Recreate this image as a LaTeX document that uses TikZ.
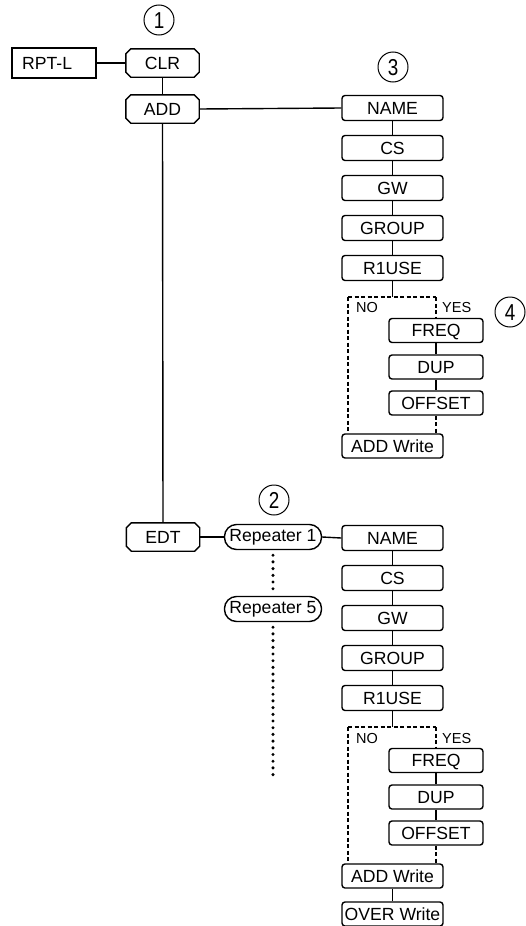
\documentclass[tikz,border=0pt]{standalone}
\usepackage{fontspec}
\setmainfont{Liberation Sans}
\begin{document}
\begin{tikzpicture}[x=1pt,y=-1pt,
  lw/.style={line width=1.4pt},
  txt/.style={font=\fontsize{17.6}{20}\selectfont, inner sep=0pt},
  box/.style={txt, lw, draw, rounded corners=3pt, minimum width=101pt, minimum height=25pt, text height=12.6pt, text depth=0pt},
  sbox/.style={box, minimum width=94pt, minimum height=24pt},
  rep/.style={txt, lw, draw, rounded corners=12pt, minimum width=97pt, minimum height=25pt},
  plain/.style={txt, minimum width=73pt, minimum height=28pt, text height=12.6pt, text depth=0pt},
  conn/.style={lw},
  dsh/.style={lw, dash pattern=on 4pt off 2.5pt},
  dots/.style={line width=3.4pt, line cap=round, dash pattern=on 0pt off 6.7pt},
  lab/.style={font=\fontsize{14.5}{16}\selectfont, inner sep=0pt},
  circ/.style={circle, draw, line width=1pt, minimum size=30pt, inner sep=0pt, font=\fontsize{23}{24}\selectfont, text height=16.5pt, text depth=0pt}
]
\useasboundingbox (0,0) rectangle (526,926);
\newcommand\chamf[1]{%
  \draw[lw] ([xshift=-5pt]#1.north east) -- ([yshift=-5pt]#1.north east) -- ([yshift=5pt]#1.south east) -- ([xshift=-5pt]#1.south east) -- ([xshift=5pt]#1.south west) -- ([yshift=5pt]#1.south west) -- ([yshift=-5pt]#1.north west) -- ([xshift=5pt]#1.north west) -- cycle;}
\newcommand\cdig[1]{\scalebox{0.82}[1]{#1}}

% circled numbers
\node[circ] (c1) at (159,20) {\cdig{1}};
\node[circ] (c2) at (274,500) {\cdig{2}};
\node[circ] (c3) at (393,67) {\cdig{3}};
\node[circ] (c4) at (510,312) {\cdig{4}};

% left column
\node[txt, lw, draw, minimum width=84pt, minimum height=30pt] (rpt) at (54,63) {};
\node[txt, anchor=west] (rpttxt) at (22,63) {RPT-L};
\node[plain] (clr) at (162.5,63) {CLR};
\node[plain] (add) at (162.5,109) {ADD};
\node[plain] (edt) at (163,537) {EDT};
\chamf{clr}
\chamf{add}
\chamf{edt}

\node[rep] (rep1) at (273,537) {Repeater 1};
\node[rep] (rep5) at (273,609) {Repeater 5};
\coordinate (dotend) at (273,781);

% right columns
\foreach \p/\d in {a/0,b/430}{
  \node[box] (\p-name) at (392.5,108+\d) {NAME};
  \node[box] (\p-cs) at (392.5,148+\d) {CS};
  \node[box] (\p-gw) at (392.5,188+\d) {GW};
  \node[box] (\p-group) at (392.5,228+\d) {GROUP};
  \node[box] (\p-r1) at (392.5,268+\d) {R1USE};
  \coordinate (\p-j) at (392.5,297+\d);
  \coordinate (\p-jl) at (348,297+\d);
  \coordinate (\p-jr) at (436,297+\d);
  \node[lab, anchor=west] (\p-no) at (356,308+\d) {NO};
  \node[lab, anchor=west] (\p-yes) at (442,308+\d) {YES};
  \node[sbox] (\p-freq) at (436,330.5+\d) {FREQ};
  \node[sbox] (\p-dup) at (436,367+\d) {DUP};
  \node[sbox] (\p-off) at (436,403+\d) {OFFSET};
  \node[box, minimum height=24pt] (\p-addw) at (392.5,446+\d) {ADD Write};
  \draw[conn] (\p-name) -- (\p-cs) -- (\p-gw) -- (\p-group) -- (\p-r1);
  \draw[conn] (\p-r1.south) -- (\p-j);
  \draw[dsh] (\p-jl) -- (\p-jr);
  \draw[dsh] (\p-jl) -- (\p-jl |- \p-addw.north);
  \draw[dsh] (\p-jr) -- (\p-freq.north);
  \draw[conn] (\p-freq) -- (\p-dup) -- (\p-off);
  \draw[dsh] (\p-off.south) -- (\p-off.south |- \p-addw.north);
}
\node[box, minimum height=24pt] (overw) at (392.5,914) {OVER Write};
\draw[conn] (b-addw) -- (overw);

% connectors
\draw[conn] (rpt.east) -- (clr.west);
\draw[conn] (clr.south) -- (add.north);
\draw[conn] (add.east) -- (a-name.west);
\draw[conn] (add.south) -- (edt.north);
\draw[conn] (edt.east) -- (rep1.west);
\draw[conn] (rep1.east) -- (b-name.west);
\draw[dots] ([yshift=-5pt]rep1.south) -- ([yshift=3pt]rep5.north);
\draw[dots] ([yshift=-5pt]rep5.south) -- (dotend);
\end{tikzpicture}
\end{document}
